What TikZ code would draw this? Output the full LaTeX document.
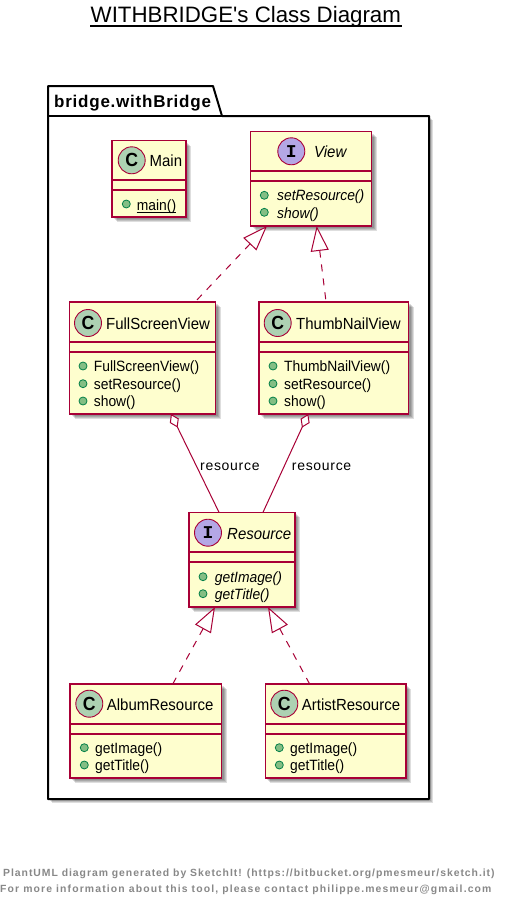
\documentclass[tikz,border=0pt]{standalone}
\usepackage{fontspec}
\setmainfont{Liberation Sans}[FakeStretch=0.93]
\setmonofont{Liberation Mono}
\newfontfamily\titlefont{Liberation Sans}
\newfontfamily\labelfont[LetterSpace=5]{Liberation Sans}
\newfontfamily\footfont[LetterSpace=11]{Liberation Sans}
\newfontfamily\footfontb[LetterSpace=9.3]{Liberation Sans}
\newfontfamily\pkgfont[LetterSpace=4.5]{Liberation Sans}
\usetikzlibrary{arrows.meta}
\definecolor{umlred}{HTML}{A80036}
\definecolor{umlfill}{HTML}{FEFECE}
\definecolor{spotc}{HTML}{ADD1B2}
\definecolor{spoti}{HTML}{B4A7E5}
\definecolor{visfill}{HTML}{84BE84}
\definecolor{visline}{HTML}{038048}
\definecolor{foot}{HTML}{888888}
\tikzset{
 x=1pt,y=-1pt,
 box/.style={draw=umlred,fill=umlfill,line width=1.4pt,inner sep=0pt,outer sep=0pt},
 sepline/.style={draw=umlred,line width=1.4pt},
 shade1/.style={fill=black,opacity=.13,draw=none},
 spot/.style={circle,draw=umlred,line width=.9pt,minimum size=27pt,inner sep=0pt},
 vis/.style={circle,draw=visline,fill=visfill,line width=.8pt,minimum size=8pt,inner sep=0pt},
 classname/.style={anchor=base west,inner sep=0pt,font=\fontsize{16.1}{16}\selectfont},
 member/.style={anchor=base west,inner sep=0pt,font=\fontsize{14.9}{15}\selectfont},
 realize/.style={draw=umlred,line width=1pt,dash pattern=on 7pt off 7pt,{Triangle[open,length=25pt,width=18pt,fill=white,line width=1pt]}-},
 aggr/.style={draw=umlred,line width=1pt,{Diamond[open,length=15pt,width=10pt,fill=white,line width=1pt]}-},
 edgelabel/.style={anchor=base west,inner sep=0pt,font=\labelfont\fontsize{14}{14}\selectfont},
 foottext/.style={anchor=base west,inner sep=0pt,text=foot,font=\bfseries\fontsize{10.4}{11}\selectfont},
}
% #1 name #2 x1 #3 y1 #4 x2 #5 y2 #6 line1 #7 line2
\newcommand{\umlbox}[7]{%
 \foreach \d in {2,3,4,5}{\fill[shade1] (#2+\d,#3+\d) rectangle (#4+\d,#5+\d);}
 \node[box,minimum width=#4pt-#2pt,minimum height=#5pt-#3pt] (#1) at ({(#2+#4)/2},{(#3+#5)/2}) {};
 \draw[sepline] (#2,#6) -- (#4,#6);
 \draw[sepline] (#2,#7) -- (#4,#7);
}
\newcommand{\cspot}[3]{\node[spot,fill=spotc,font=\bfseries\fontsize{19}{19}\selectfont] (#1) at (#2,#3) {C};}
\newcommand{\ispot}[3]{\node[spot,fill=spoti,font=\ttfamily\bfseries\fontsize{18}{18}\selectfont] (#1) at (#2,#3) {I};}
\begin{document}
\begin{tikzpicture}
\useasboundingbox (0,0) rectangle (506,907);
\fill[white] (0,0) rectangle (506,907);
% title
\node[anchor=base west,inner sep=0pt,font=\titlefont\fontsize{22.3}{23}\selectfont] (title) at (90.5,23) {WITHBRIDGE's Class Diagram};
\draw[line width=1.2pt] (90,26) -- (402,26);
% package
\foreach \d in {2,3,4}{\fill[shade1] (48+\d,116+\d) rectangle (429+\d,799+\d);}
\draw[fill=white,draw=black,line width=2pt,line join=round] (48,116) -- (48,86) -- (213,86) -- (222,116) -- (429,116) -- (429,799) -- (48,799) -- cycle;
\draw[draw=black,line width=2pt] (48,116) -- (222,116);
\node[anchor=base west,inner sep=0pt,font=\pkgfont\bfseries\fontsize{17}{17}\selectfont] (pkg) at (54,107.5) {bridge.withBridge};
% classes
\umlbox{main}{112}{140.5}{186}{217}{180}{190}
\cspot{mainS}{131.7}{160.3}
\node[classname] (mainN) at (149.5,166) {Main};
\node[vis] (mainV) at (126.3,204) {};
\node[member] (mainM) at (136.7,210) {main()};
\draw[black,line width=.8pt] (mainM.base west)++(0,2.5) -- +(39,0);

\umlbox{view}{250.5}{131.5}{371.5}{226}{171}{181}
\ispot{viewS}{291.3}{151.3}
\node[classname,font=\itshape\fontsize{16.1}{16}\selectfont] (viewN) at (314,157) {View};
\node[vis] (viewV1) at (264.3,195.3) {};
\node[vis] (viewV2) at (264.3,212.3) {};
\node[member,font=\itshape\fontsize{14.9}{15}\selectfont] (viewM1) at (277,200.7) {setResource()};
\node[member,font=\itshape\fontsize{14.9}{15}\selectfont] (viewM2) at (277,218) {show()};

\umlbox{fsv}{69.5}{302}{215.5}{414}{342}{352}
\cspot{fsvS}{88}{323}
\node[classname] (fsvN) at (106,329) {FullScreenView};
\node[vis] (fsvV1) at (83,366) {};
\node[vis] (fsvV2) at (83,383.7) {};
\node[vis] (fsvV3) at (83,401) {};
\node[member] (fsvM1) at (93.7,371.7) {FullScreenView()};
\node[member] (fsvM2) at (93.7,389) {setResource()};
\node[member] (fsvM3) at (93.7,406.3) {show()};

\umlbox{tnv}{259}{302}{408.5}{414}{342}{352}
\cspot{tnvS}{277.7}{323}
\node[classname] (tnvN) at (296,329) {ThumbNailView};
\node[vis] (tnvV1) at (273,366) {};
\node[vis] (tnvV2) at (273,383.7) {};
\node[vis] (tnvV3) at (273,401) {};
\node[member] (tnvM1) at (284,371.7) {ThumbNailView()};
\node[member] (tnvM2) at (284,389) {setResource()};
\node[member] (tnvM3) at (284,406.3) {show()};

\umlbox{res}{189}{512.3}{295}{607}{552}{562}
\ispot{resS}{208}{532.7}
\node[classname,font=\itshape\fontsize{16.1}{16}\selectfont] (resN) at (227,539) {Resource};
\node[vis] (resV1) at (203,576.7) {};
\node[vis] (resV2) at (203,593.7) {};
\node[member,font=\itshape\fontsize{14.9}{15}\selectfont] (resM1) at (214.7,582.3) {getImage()};
\node[member,font=\itshape\fontsize{14.9}{15}\selectfont] (resM2) at (214.7,599.5) {getTitle()};

\umlbox{alb}{70}{684}{221.5}{778}{724}{734}
\cspot{albS}{89.3}{703.7}
\node[classname] (albN) at (106.7,710) {AlbumResource};
\node[vis] (albV1) at (84.3,747.7) {};
\node[vis] (albV2) at (84.3,765) {};
\node[member] (albM1) at (95,753) {getImage()};
\node[member] (albM2) at (95,770.5) {getTitle()};

\umlbox{art}{265.3}{684}{406}{778}{724}{734}
\cspot{artS}{284.3}{703.7}
\node[classname] (artN) at (301.7,710) {ArtistResource};
\node[vis] (artV1) at (279.3,747.7) {};
\node[vis] (artV2) at (279.3,765) {};
\node[member] (artM1) at (290,753) {getImage()};
\node[member] (artM2) at (290,770.5) {getTitle()};
% connectors
\draw[realize] ([xshift=-44pt]view.south) -- ([xshift=52.5pt]fsv.north);
\draw[realize] ([xshift=5.7pt]view.south) -- ([xshift=-7.7pt]tnv.north);
\draw[aggr] ([xshift=28.5pt]fsv.south) -- ([xshift=-23pt]res.north);
\draw[aggr] ([xshift=-25.5pt]tnv.south) -- ([xshift=21pt]res.north);
\draw[realize] ([xshift=-27pt]res.south) -- ([xshift=27pt]alb.north);
\draw[realize] ([xshift=26pt]res.south) -- ([xshift=-26pt]art.north);
\node[edgelabel] (l1) at (200,470.7) {resource};
\node[edgelabel] (l2) at (291.7,470.7) {resource};
% footer
\node[foottext,font=\footfontb\bfseries\fontsize{10.4}{11}\selectfont] (f1) at (3,876) {PlantUML diagram generated by SketchIt! (https://bitbucket.org/pmesmeur/sketch.it)};
\node[foottext,font=\footfont\bfseries\fontsize{10.4}{11}\selectfont] (f2) at (0,892) {For more information about this tool, please contact philippe.mesmeur@gmail.com};
\end{tikzpicture}
\end{document}
